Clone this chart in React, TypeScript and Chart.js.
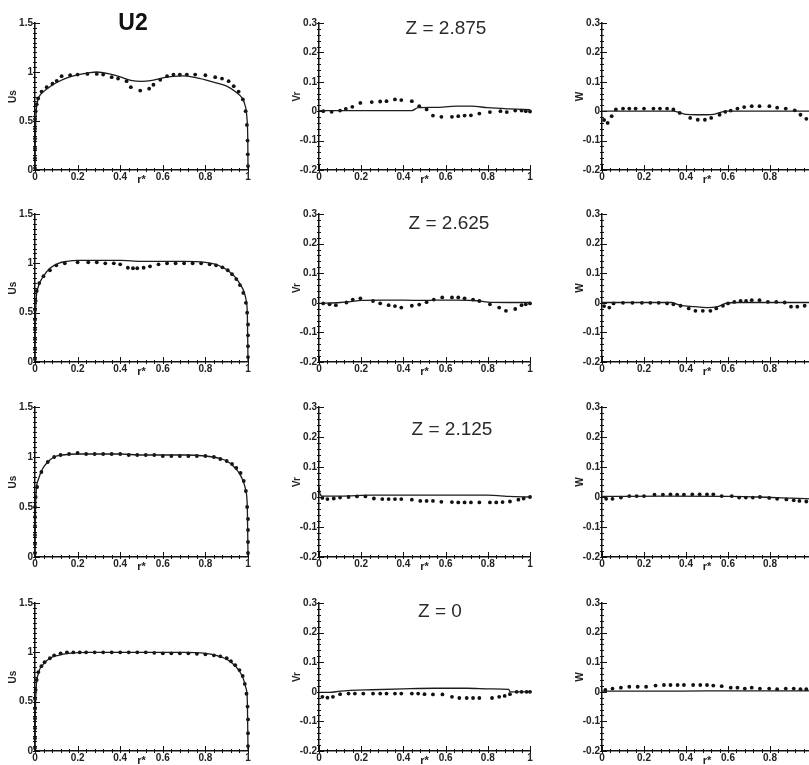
import React, { useEffect, useRef } from 'react';
import { Chart, registerables } from 'chart.js';

Chart.register(...registerables);

// ---------- Data (r* positions and values) ----------
// Column 1: Us
const US_Z2875_LINE_R = [0, 0.002, 0.005, 0.01, 0.02, 0.04, 0.07, 0.1, 0.15, 0.2, 0.25, 0.29, 0.35, 0.4, 0.45, 0.5, 0.55, 0.6, 0.65, 0.7, 0.75, 0.8, 0.85, 0.9, 0.94, 0.97, 0.985, 0.995, 0.999, 1];
const US_Z2875_LINE = [0, 0.35, 0.58, 0.68, 0.75, 0.8, 0.85, 0.89, 0.94, 0.97, 0.99, 1.0, 0.98, 0.95, 0.915, 0.905, 0.915, 0.94, 0.955, 0.96, 0.945, 0.92, 0.89, 0.855, 0.8, 0.74, 0.67, 0.53, 0.3, 0];
const US_Z2875_DOT_R = [0, 0, 0, 0, 0, 0, 0.003, 0.008, 0.015, 0.031, 0.055, 0.082, 0.102, 0.125, 0.165, 0.2, 0.246, 0.29, 0.32, 0.36, 0.39, 0.43, 0.45, 0.494, 0.536, 0.556, 0.588, 0.62, 0.65, 0.68, 0.713, 0.752, 0.8, 0.846, 0.878, 0.909, 0.933, 0.956, 0.976, 0.989, 0.995, 0.998, 0.999, 1];
const US_Z2875_DOT = [0.02, 0.12, 0.22, 0.32, 0.42, 0.52, 0.6, 0.67, 0.73, 0.8, 0.845, 0.88, 0.91, 0.957, 0.967, 0.974, 0.98, 0.98, 0.974, 0.947, 0.933, 0.906, 0.845, 0.81, 0.83, 0.87, 0.92, 0.957, 0.974, 0.974, 0.974, 0.974, 0.967, 0.947, 0.933, 0.906, 0.855, 0.8, 0.72, 0.6, 0.46, 0.3, 0.16, 0.04];

const US_Z2625_LINE_R = [0, 0.002, 0.005, 0.015, 0.04, 0.07, 0.11, 0.15, 0.2, 0.3, 0.4, 0.5, 0.6, 0.7, 0.8, 0.85, 0.88, 0.91, 0.94, 0.96, 0.98, 0.99, 0.997, 1];
const US_Z2625_LINE = [0, 0.4, 0.62, 0.76, 0.87, 0.95, 1.0, 1.02, 1.03, 1.03, 1.03, 1.02, 1.02, 1.02, 1.01, 0.99, 0.96, 0.92, 0.86, 0.8, 0.72, 0.64, 0.48, 0];
const US_Z2625_DOT_R = [0, 0, 0, 0, 0, 0, 0.003, 0.008, 0.02, 0.04, 0.07, 0.1, 0.14, 0.2, 0.25, 0.29, 0.33, 0.37, 0.4, 0.436, 0.46, 0.48, 0.51, 0.54, 0.58, 0.62, 0.66, 0.7, 0.74, 0.78, 0.82, 0.85, 0.88, 0.905, 0.925, 0.945, 0.962, 0.978, 0.99, 0.996, 1, 1, 1, 1];
const US_Z2625_DOT = [0.03, 0.13, 0.23, 0.33, 0.43, 0.53, 0.62, 0.72, 0.8, 0.87, 0.93, 0.98, 1.0, 1.01, 1.01, 1.01, 1.0, 1.0, 0.99, 0.955, 0.95, 0.95, 0.955, 0.97, 0.99, 1.0, 1.0, 1.0, 1.0, 1.0, 0.99, 0.98, 0.96, 0.93, 0.89, 0.84, 0.78, 0.7, 0.6, 0.5, 0.38, 0.27, 0.16, 0.05];

const US_Z2125_LINE_R = [0, 0.002, 0.005, 0.015, 0.035, 0.06, 0.09, 0.13, 0.2, 0.3, 0.4, 0.5, 0.6, 0.7, 0.8, 0.86, 0.9, 0.93, 0.955, 0.975, 0.99, 0.997, 1];
const US_Z2125_LINE = [0, 0.4, 0.64, 0.77, 0.88, 0.95, 1.0, 1.02, 1.03, 1.03, 1.03, 1.02, 1.02, 1.02, 1.01, 0.99, 0.96, 0.91, 0.85, 0.77, 0.66, 0.48, 0];
const US_Z2125_DOT_R = [0, 0, 0, 0, 0, 0, 0.003, 0.01, 0.03, 0.06, 0.09, 0.12, 0.16, 0.2, 0.24, 0.28, 0.32, 0.36, 0.4, 0.44, 0.48, 0.52, 0.56, 0.6, 0.64, 0.68, 0.72, 0.76, 0.8, 0.84, 0.87, 0.9, 0.925, 0.945, 0.965, 0.98, 0.99, 0.996, 1, 1, 1, 1];
const US_Z2125_DOT = [0.04, 0.13, 0.22, 0.31, 0.4, 0.5, 0.6, 0.7, 0.85, 0.95, 1.0, 1.02, 1.03, 1.04, 1.03, 1.03, 1.03, 1.03, 1.03, 1.02, 1.02, 1.02, 1.02, 1.01, 1.01, 1.01, 1.01, 1.01, 1.01, 1.0, 0.98, 0.96, 0.93, 0.89, 0.84, 0.76, 0.66, 0.5, 0.38, 0.27, 0.15, 0.04];

const US_Z0_LINE_R = [0, 0.002, 0.005, 0.015, 0.04, 0.07, 0.11, 0.16, 0.25, 0.4, 0.55, 0.7, 0.8, 0.85, 0.89, 0.92, 0.945, 0.965, 0.98, 0.99, 0.997, 1];
const US_Z0_LINE = [0, 0.4, 0.62, 0.78, 0.88, 0.94, 0.97, 0.99, 1.0, 1.0, 1.0, 1.0, 0.99, 0.97, 0.94, 0.9, 0.85, 0.79, 0.72, 0.64, 0.5, 0];
const US_Z0_DOT_R = [0, 0, 0, 0, 0, 0, 0.003, 0.008, 0.016, 0.03, 0.045, 0.07, 0.09, 0.12, 0.15, 0.18, 0.21, 0.24, 0.28, 0.32, 0.36, 0.4, 0.44, 0.48, 0.52, 0.56, 0.6, 0.64, 0.68, 0.72, 0.76, 0.8, 0.84, 0.87, 0.9, 0.92, 0.94, 0.96, 0.975, 0.985, 0.993, 0.998, 1, 1, 1];
const US_Z0_DOT = [0.03, 0.13, 0.23, 0.33, 0.43, 0.53, 0.62, 0.72, 0.8, 0.86, 0.9, 0.94, 0.97, 0.99, 1.0, 1.0, 1.0, 1.0, 1.0, 1.0, 1.0, 1.0, 1.0, 1.0, 1.0, 0.995, 0.99, 0.99, 0.99, 0.99, 0.985, 0.98, 0.97, 0.96, 0.94, 0.91, 0.87, 0.82, 0.76, 0.68, 0.58, 0.45, 0.32, 0.18, 0.05];

// Column 2: Vr
const VR_Z2875_LINE_R = [0, 0.1, 0.2, 0.3, 0.44, 0.47, 0.55, 0.65, 0.72, 0.8, 0.9, 1];
const VR_Z2875_LINE = [0.002, 0.002, 0.002, 0.002, 0.002, 0.012, 0.013, 0.017, 0.017, 0.012, 0.008, 0.005];
const VR_Z2875_DOT_R = [0.02, 0.06, 0.1, 0.127, 0.158, 0.196, 0.25, 0.29, 0.32, 0.36, 0.39, 0.44, 0.475, 0.51, 0.54, 0.58, 0.63, 0.66, 0.69, 0.72, 0.76, 0.81, 0.86, 0.89, 0.93, 0.96, 0.98, 1.0];
const VR_Z2875_DOT = [0, -0.002, 0.002, 0.008, 0.015, 0.028, 0.031, 0.033, 0.034, 0.04, 0.038, 0.034, 0.017, 0.006, -0.015, -0.019, -0.019, -0.017, -0.015, -0.014, -0.008, -0.003, 0, -0.003, 0.002, 0.002, 0, -0.001];

const VR_Z2625_LINE_R = [0, 0.1, 0.15, 0.2, 0.3, 0.4, 0.5, 0.55, 0.65, 0.75, 0.8, 0.9, 1];
const VR_Z2625_LINE = [-0.002, 0.001, 0.004, 0.008, 0.009, 0.009, 0.008, 0.009, 0.009, 0.007, 0.002, 0.001, 0.001];
const VR_Z2625_DOT_R = [0.02, 0.05, 0.08, 0.13, 0.16, 0.196, 0.256, 0.29, 0.33, 0.36, 0.39, 0.44, 0.475, 0.51, 0.544, 0.584, 0.63, 0.66, 0.69, 0.73, 0.76, 0.81, 0.854, 0.886, 0.93, 0.96, 0.98, 1.0];
const VR_Z2625_DOT = [-0.002, -0.005, -0.008, 0.001, 0.011, 0.015, 0.006, -0.002, -0.008, -0.011, -0.016, -0.01, -0.006, 0.002, 0.011, 0.018, 0.018, 0.018, 0.015, 0.011, 0.006, -0.005, -0.016, -0.027, -0.021, -0.008, -0.005, -0.002];

const VR_Z2125_LINE_R = [0, 0.005, 0.015, 0.1, 0.25, 0.4, 0.6, 0.8, 0.86, 0.9, 1];
const VR_Z2125_LINE = [0.035, 0.01, 0.003, 0.003, 0.006, 0.006, 0.006, 0.006, 0.004, 0.002, 0];
const VR_Z2125_DOT_R = [0.016, 0.04, 0.07, 0.1, 0.14, 0.18, 0.22, 0.26, 0.3, 0.33, 0.36, 0.39, 0.44, 0.48, 0.51, 0.54, 0.58, 0.63, 0.66, 0.69, 0.72, 0.76, 0.81, 0.84, 0.87, 0.905, 0.945, 0.97, 1.0];
const VR_Z2125_DOT = [-0.003, -0.007, -0.005, -0.002, 0, 0.002, 0.002, -0.005, -0.007, -0.007, -0.007, -0.007, -0.009, -0.013, -0.013, -0.013, -0.016, -0.017, -0.018, -0.018, -0.018, -0.018, -0.018, -0.018, -0.017, -0.015, -0.009, -0.005, 0];

const VR_Z0_LINE_R = [0, 0.05, 0.1, 0.25, 0.4, 0.55, 0.7, 0.82, 0.9, 0.905, 1];
const VR_Z0_LINE = [-0.002, -0.002, 0.002, 0.007, 0.01, 0.012, 0.012, 0.01, 0.008, 0, 0];
const VR_Z0_DOT_R = [0.016, 0.04, 0.066, 0.1, 0.14, 0.17, 0.21, 0.256, 0.29, 0.32, 0.36, 0.39, 0.44, 0.47, 0.5, 0.54, 0.585, 0.63, 0.665, 0.7, 0.73, 0.76, 0.82, 0.854, 0.88, 0.905, 0.937, 0.96, 0.984, 1.0];
const VR_Z0_DOT = [-0.017, -0.02, -0.017, -0.008, -0.006, -0.006, -0.006, -0.006, -0.006, -0.006, -0.006, -0.006, -0.006, -0.006, -0.008, -0.009, -0.009, -0.017, -0.021, -0.021, -0.021, -0.021, -0.021, -0.017, -0.014, -0.008, 0, 0, 0, 0];

// Column 3: W
const W_Z2875_LINE_R = [0, 0.34, 0.37, 0.4, 0.45, 0.5, 0.53, 0.56, 0.59, 0.7, 0.85, 1];
const W_Z2875_LINE = [0, 0, -0.005, -0.011, -0.012, -0.012, -0.011, -0.005, 0, 0, 0, 0];
const W_Z2875_DOT_R = [0.01, 0.027, 0.046, 0.066, 0.1, 0.13, 0.16, 0.2, 0.245, 0.276, 0.31, 0.34, 0.37, 0.42, 0.456, 0.49, 0.52, 0.56, 0.587, 0.613, 0.645, 0.677, 0.713, 0.75, 0.797, 0.834, 0.875, 0.918, 0.945, 0.973, 1.0];
const W_Z2875_DOT = [-0.03, -0.04, -0.017, 0.006, 0.009, 0.009, 0.009, 0.009, 0.009, 0.009, 0.009, 0.006, -0.006, -0.023, -0.029, -0.029, -0.023, -0.012, -0.002, 0.002, 0.009, 0.014, 0.017, 0.017, 0.017, 0.012, 0.009, 0.003, -0.012, -0.026, -0.03];

const W_Z2625_LINE_R = [0, 0.33, 0.37, 0.44, 0.5, 0.55, 0.59, 0.65, 1];
const W_Z2625_LINE = [0.001, 0.001, -0.008, -0.013, -0.016, -0.013, -0.002, 0.001, 0.001];
const W_Z2625_DOT_R = [0.01, 0.035, 0.055, 0.1, 0.145, 0.19, 0.23, 0.27, 0.31, 0.34, 0.374, 0.413, 0.445, 0.48, 0.516, 0.544, 0.576, 0.6, 0.63, 0.66, 0.686, 0.713, 0.75, 0.79, 0.83, 0.87, 0.9, 0.93, 0.965];
const W_Z2625_DOT = [-0.011, -0.016, -0.002, 0, 0, 0, 0, 0, -0.002, -0.005, -0.01, -0.019, -0.027, -0.027, -0.027, -0.019, -0.01, -0.002, 0.003, 0.006, 0.006, 0.009, 0.009, 0.003, 0.003, 0.001, -0.013, -0.013, -0.01];

const W_Z2125_LINE_R = [0, 0.3, 0.6, 0.75, 0.9, 1];
const W_Z2125_LINE = [0.002, 0.003, 0.002, 0.0, -0.004, -0.006];
const W_Z2125_DOT_R = [0.02, 0.05, 0.09, 0.13, 0.165, 0.2, 0.25, 0.29, 0.326, 0.358, 0.39, 0.43, 0.465, 0.5, 0.53, 0.57, 0.618, 0.653, 0.685, 0.718, 0.752, 0.796, 0.834, 0.878, 0.913, 0.94, 0.973];
const W_Z2125_DOT = [-0.006, -0.006, -0.002, 0.003, 0.003, 0.003, 0.008, 0.008, 0.009, 0.008, 0.008, 0.009, 0.009, 0.009, 0.009, 0.003, 0.003, -0.002, -0.002, -0.002, 0, -0.003, -0.006, -0.008, -0.011, -0.013, -0.015];

const W_Z0_LINE_R = [0, 0.25, 0.5, 0.75, 1];
const W_Z0_LINE = [0.002, 0.002, 0.003, 0.003, 0.003];
const W_Z0_DOT_R = [0.016, 0.05, 0.09, 0.13, 0.17, 0.21, 0.255, 0.295, 0.326, 0.36, 0.39, 0.434, 0.468, 0.5, 0.53, 0.57, 0.613, 0.645, 0.68, 0.713, 0.752, 0.796, 0.834, 0.875, 0.913, 0.945, 0.973];
const W_Z0_DOT = [0.006, 0.011, 0.014, 0.017, 0.017, 0.017, 0.021, 0.023, 0.023, 0.023, 0.023, 0.023, 0.023, 0.023, 0.021, 0.019, 0.014, 0.014, 0.011, 0.014, 0.011, 0.011, 0.009, 0.011, 0.011, 0.009, 0.009];

// Axis / label definitions
const X_TICK_STEP = 0.2;
const X_MINOR_STEP = 0.04;
const X_TITLE = 'r*';
const Z_LABELS = ['Z = 2.875', 'Z = 2.625', 'Z = 2.125', 'Z = 0'];
const VAR_TITLES = ['Us', 'Vr', 'W'];
const HEAD_TITLE = 'U2';

const Y_AXES = [
  { min: 0, max: 1.5, step: 0.5, minor: 0.05 },
  { min: -0.2, max: 0.3, step: 0.1, minor: 0.02 },
  { min: -0.2, max: 0.3, step: 0.1, minor: 0.02 },
];

const SERIES = [
  [
    [US_Z2875_LINE_R, US_Z2875_LINE, US_Z2875_DOT_R, US_Z2875_DOT],
    [VR_Z2875_LINE_R, VR_Z2875_LINE, VR_Z2875_DOT_R, VR_Z2875_DOT],
    [W_Z2875_LINE_R, W_Z2875_LINE, W_Z2875_DOT_R, W_Z2875_DOT],
  ],
  [
    [US_Z2625_LINE_R, US_Z2625_LINE, US_Z2625_DOT_R, US_Z2625_DOT],
    [VR_Z2625_LINE_R, VR_Z2625_LINE, VR_Z2625_DOT_R, VR_Z2625_DOT],
    [W_Z2625_LINE_R, W_Z2625_LINE, W_Z2625_DOT_R, W_Z2625_DOT],
  ],
  [
    [US_Z2125_LINE_R, US_Z2125_LINE, US_Z2125_DOT_R, US_Z2125_DOT],
    [VR_Z2125_LINE_R, VR_Z2125_LINE, VR_Z2125_DOT_R, VR_Z2125_DOT],
    [W_Z2125_LINE_R, W_Z2125_LINE, W_Z2125_DOT_R, W_Z2125_DOT],
  ],
  [
    [US_Z0_LINE_R, US_Z0_LINE, US_Z0_DOT_R, US_Z0_DOT],
    [VR_Z0_LINE_R, VR_Z0_LINE, VR_Z0_DOT_R, VR_Z0_DOT],
    [W_Z0_LINE_R, W_Z0_LINE, W_Z0_DOT_R, W_Z0_DOT],
  ],
];

// ---------- Layout ----------
const FONT = '"Liberation Sans", Arial, Helvetica, sans-serif';
const COLS = [
  { x0: 35, x1: 248 },
  { x0: 319, x1: 530 },
  { x0: 602, x1: 812 },
];
const ROWS = [
  { y0: 23, y1: 170 },
  { y0: 214, y1: 362 },
  { y0: 407, y1: 557 },
  { y0: 603, y1: 751 },
];
const Z_POS = [
  { x: 446, y: 27 },
  { x: 449, y: 222 },
  { x: 452, y: 428 },
  { x: 440, y: 610 },
];
const WY = 30;
const HX = 18;
const PT = 10;
const PR = 8;

const fmt = (v: number) => String(Math.round(v * 100) / 100);

const minorTicksPlugin = {
  id: 'minorTicks',
  afterDraw(chart: any, _args: any, opts: any) {
    const { ctx, chartArea } = chart;
    const xs = chart.scales.x;
    const ys = chart.scales.y;
    ctx.save();
    ctx.strokeStyle = '#111';
    ctx.lineWidth = 1;
    const isMajor = (v: number, step: number) => Math.abs(v / step - Math.round(v / step)) < 1e-6;
    const nx = Math.round((xs.max - xs.min) / opts.xMinor);
    for (let i = 0; i <= nx; i++) {
      const v = xs.min + i * opts.xMinor;
      const px = Math.round(xs.getPixelForValue(v)) + 0.5;
      const major = isMajor(v, opts.xStep);
      ctx.beginPath();
      ctx.moveTo(px, chartArea.bottom + 2);
      ctx.lineTo(px, chartArea.bottom - (major ? 5 : 2));
      ctx.stroke();
    }
    const ny = Math.round((ys.max - ys.min) / opts.yMinor);
    for (let i = 0; i <= ny; i++) {
      const v = ys.min + i * opts.yMinor;
      const py = Math.round(ys.getPixelForValue(v)) + 0.5;
      const major = isMajor(v, opts.yStep);
      ctx.beginPath();
      ctx.moveTo(chartArea.left - 2, py);
      ctx.lineTo(chartArea.left + (major ? 5 : 2), py);
      ctx.stroke();
    }
    ctx.restore();
  },
};

function Panel({ row, col }: { row: number; col: number }) {
  const ref = useRef<HTMLCanvasElement>(null);
  const c = COLS[col];
  const r = ROWS[row];
  const left = c.x0 - WY;
  const top = r.y0 - PT;
  const width = WY + (c.x1 - c.x0) + PR;
  const height = PT + (r.y1 - r.y0) + HX;

  useEffect(() => {
    const [lineR, lineV, dotR, dotV] = SERIES[row][col];
    const ya = Y_AXES[col];
    const tickFont = { family: FONT, size: 10, weight: 'bold' as const };
    const chart = new Chart(ref.current as HTMLCanvasElement, {
      type: 'scatter',
      data: {
        datasets: [
          {
            type: 'line',
            data: lineR.map((x, i) => ({ x, y: lineV[i] })),
            borderColor: '#1c1c1c',
            borderWidth: 1.3,
            pointRadius: 0,
            fill: false,
            cubicInterpolationMode: 'monotone',
            clip: false,
          } as any,
          {
            type: 'scatter',
            data: dotR.map((x, i) => ({ x, y: dotV[i] })),
            pointRadius: 1.9,
            pointBackgroundColor: '#111',
            pointBorderWidth: 0,
            clip: false,
          } as any,
        ],
      },
      options: {
        animation: false,
        responsive: false,
        events: [],
        layout: { autoPadding: false, padding: { top: PT, right: PR, left: 0, bottom: 0 } },
        plugins: {
          legend: { display: false },
          tooltip: { enabled: false },
          minorTicks: { xMinor: X_MINOR_STEP, xStep: X_TICK_STEP, yMinor: ya.minor, yStep: ya.step },
        } as any,
        scales: {
          x: {
            type: 'linear',
            position: 'bottom',
            min: 0,
            max: 1,
            afterFit: (s: any) => {
              s.height = HX;
            },
            grid: { display: false, drawTicks: false },
            border: { display: true, color: '#111', width: 1.5 },
            ticks: {
              stepSize: X_TICK_STEP,
              padding: 1,
              color: '#222',
              font: tickFont,
              maxRotation: 0,
              autoSkip: false,
              callback: (v: any) => fmt(Number(v)),
            },
            title: {
              display: true,
              text: X_TITLE,
              color: '#222',
              font: { family: FONT, size: 11, weight: 'bold' },
              padding: { top: 0, bottom: 1 },
            },
          },
          y: {
            type: 'linear',
            position: 'left',
            min: ya.min,
            max: ya.max,
            afterFit: (s: any) => {
              s.width = WY;
            },
            grid: { display: false, drawTicks: false },
            border: { display: true, color: '#111', width: 1.5 },
            ticks: {
              stepSize: ya.step,
              padding: 2,
              color: '#222',
              font: tickFont,
              autoSkip: false,
              callback: (v: any) => fmt(Number(v)),
            },
            title: {
              display: true,
              text: VAR_TITLES[col],
              color: '#222',
              font: { family: FONT, size: 10, weight: 'bold' },
              padding: { top: 2, bottom: 0 },
            },
          },
        },
      } as any,
      plugins: [minorTicksPlugin],
    });
    return () => chart.destroy();
  }, [row, col]);

  return (
    <canvas
      ref={ref}
      width={width}
      height={height}
      style={{ position: 'absolute', left, top, width, height, display: 'block' }}
    />
  );
}

export default function App() {
  const panels: JSX.Element[] = [];
  for (let row = 0; row < 4; row++) {
    for (let col = 0; col < 3; col++) {
      panels.push(<Panel key={`${row}-${col}`} row={row} col={col} />);
    }
  }
  return (
    <div
      style={{
        position: 'fixed',
        left: 0,
        top: 0,
        width: 809,
        height: 765,
        overflow: 'hidden',
        background: '#fff',
        fontFamily: FONT,
      }}
    >
      {panels}
      <div
        style={{
          position: 'absolute',
          left: 133,
          top: 22,
          transform: 'translate(-50%, -50%)',
          fontSize: 23,
          fontWeight: 'bold',
          lineHeight: 1,
          color: '#111',
          whiteSpace: 'nowrap',
        }}
      >
        {HEAD_TITLE}
      </div>
      {Z_LABELS.map((t, i) => (
        <div
          key={t}
          style={{
            position: 'absolute',
            left: Z_POS[i].x,
            top: Z_POS[i].y,
            transform: 'translate(-50%, -50%)',
            fontSize: 19,
            lineHeight: 1,
            color: '#2a2a2a',
            whiteSpace: 'nowrap',
          }}
        >
          {t}
        </div>
      ))}
    </div>
  );
}
